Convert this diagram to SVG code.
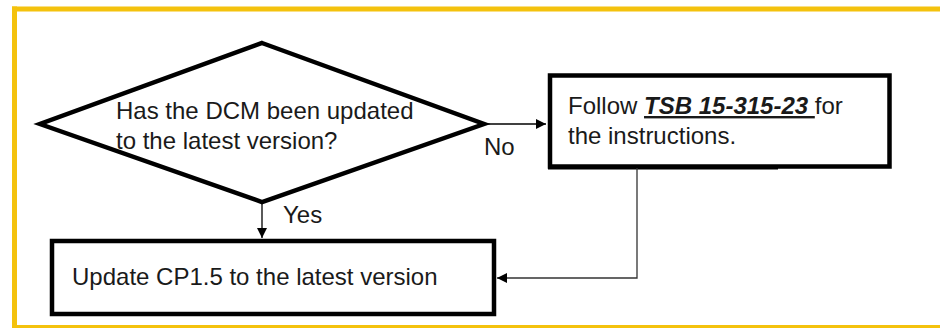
<svg xmlns="http://www.w3.org/2000/svg" width="940" height="328" viewBox="0 0 940 328">
  <defs>
    <style>
      .t { font-family: "Liberation Sans", Arial, sans-serif; font-size: 24px; fill: #1a1a1a; }
      .node { fill: #ffffff; stroke: #000000; stroke-width: 4.5; }
      .conn { fill: none; stroke: #000000; stroke-width: 1.3; }
      .conn2 { fill: none; stroke: #333333; stroke-width: 1.3; }
      .frame { stroke: #F4C20D; fill: none; }
    </style>
    <marker id="arr" viewBox="0 0 10 10" refX="10" refY="5" markerWidth="10" markerHeight="10" markerUnits="userSpaceOnUse" orient="auto">
      <path d="M0,0 L10,5 L0,10 Z" fill="#000000"/>
    </marker>
  </defs>

  <rect x="0" y="0" width="940" height="328" fill="#ffffff"/>
  <g id="frame">
    <line class="frame" x1="12" y1="9" x2="940" y2="9" stroke-width="5"/>
    <line class="frame" x1="14.5" y1="6.5" x2="14.5" y2="328" stroke-width="5"/>
    <line class="frame" x1="12" y1="326.5" x2="940" y2="326.5" stroke-width="3"/>
  </g>

  <g id="decision">
    <polygon class="node" points="262,43 484,124 262,202 40,124"/>
    <text class="t" x="116" y="119">Has the DCM been updated</text>
    <text class="t" x="116" y="149">to the latest version?</text>
  </g>

  <g id="follow-tsb">
    <rect class="node" x="550" y="75.5" width="339.5" height="91"/>
    <line x1="548" y1="168" x2="778" y2="168" stroke="#000" stroke-width="3"/>
    <text class="t" x="568" y="114">Follow <tspan font-weight="bold" font-style="italic" text-decoration="underline">TSB 15-315-23 </tspan>for</text>
    <text class="t" x="568" y="144">the instructions.</text>
  </g>

  <g id="update-cp">
    <rect class="node" x="52" y="241" width="442" height="73"/>
    <text class="t" x="72" y="285">Update CP1.5 to the latest version</text>
  </g>

  <g id="connectors">
    <line class="conn" x1="486" y1="124" x2="546" y2="124" marker-end="url(#arr)"/>
    <text class="t" x="484" y="155">No</text>
    <line class="conn" x1="262" y1="202" x2="262" y2="238" marker-end="url(#arr)"/>
    <text class="t" x="283" y="223">Yes</text>
    <polyline class="conn2" points="637,168 637,278 497,278" marker-end="url(#arr)"/>
  </g>
</svg>
